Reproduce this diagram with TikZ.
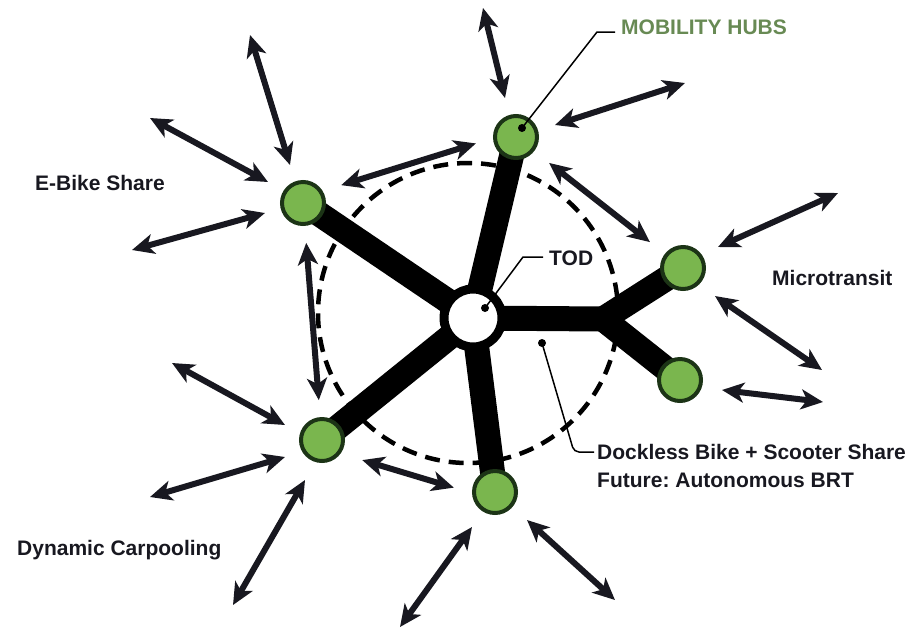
\documentclass[tikz,border=0pt]{standalone}
\usepackage{fontspec}
\setmainfont{Liberation Sans}
\usetikzlibrary{arrows.meta,calc,backgrounds}
\definecolor{HubGreen}{RGB}{122,182,78}
\definecolor{HubRim}{RGB}{28,52,22}
\definecolor{HubText}{RGB}{104,138,84}
\definecolor{InkBlack}{RGB}{24,24,32}

\tikzset{
  hub/.style={circle,draw=HubRim,fill=HubGreen,line width=4pt,minimum size=42pt,inner sep=0pt},
  twoway/.style={{Stealth[length=22pt,width=20pt,inset=6pt]}-{Stealth[length=22pt,width=20pt,inset=6pt]},
    line width=6pt,InkBlack},
  spoke/.style={line width=25pt,black,line join=round},
  lbl/.style={font=\bfseries\fontsize{21}{28}\selectfont,text=InkBlack,inner sep=0pt,anchor=west},
  pin/.style={line width=1.5pt,black},
  pindot/.style={circle,fill=black,inner sep=0pt,minimum size=8pt}
}

\begin{document}
\frenchspacing
\begin{tikzpicture}[x=1pt,y=-1pt]
  \useasboundingbox (0,0) rectangle (917,633);

  \node[hub] (h1) at (516,137) {};
  \node[hub] (h2) at (303,203) {};
  \node[hub] (h3) at (683,268) {};
  \node[hub] (h4) at (680,380) {};
  \node[hub] (h5) at (322,440) {};
  \node[hub] (h6) at (495,492) {};
  \node[circle,draw,line width=9pt,fill=white,minimum size=58pt,inner sep=0pt] (tod) at (473,318) {};
  \coordinate (fork) at (603,319);

  \begin{scope}[on background layer]
    \draw[line width=4.5pt,dash pattern=on 15pt off 9pt] (468,313) circle (150);
    \draw[spoke] (tod.center) -- (h1.center);
    \draw[spoke] (tod.center) -- (h2.center);
    \draw[spoke] (tod.center) -- (h5.center);
    \draw[spoke] (tod.center) -- (h6.center);
    \draw[spoke] (tod.center) -- (fork);
    \draw[spoke] (h3.center) -- (fork) -- (h4.center);
  \end{scope}

  \foreach \h/\nx/\ny/\fx/\fy in {
      h1/-11/-39/-33/-129, h1/39/-12/169/-54,
      h2/-13/-38/-53/-168, h2/-35/-21/-153/-85, h2/-38/10/-171/47,
      h3/35/-21/155/-75, h3/32/28/139/102,
      h4/42/10/143/22,
      h5/-37/-15/-150/-77, h5/-37/17/-172/57, h5/-17/40/-89/165,
      h6/-23/35/-95/135, h6/32/28/120/108}
    \draw[twoway] ($(\h)+(\nx,\ny)$) -- ($(\h)+(\fx,\fy)$);

  \draw[twoway,shorten <=40pt,shorten >=40pt] (h2.center) -- (h5.center);
  \draw[twoway,shorten <=40pt,shorten >=42pt] ([yshift=6pt]h2.center) -- ([yshift=6pt]h1.center);
  \draw[twoway,shorten <=42pt,shorten >=42pt] (h1.center) -- (h3.center);
  \draw[twoway,shorten <=42pt,shorten >=43pt] ([yshift=-8pt]h5.center) -- ([yshift=-8pt]h6.center);

  \node[lbl,text=HubText] (mobtxt) at (621,27) {MOBILITY HUBS};
  \node[pindot] (mobdot) at (522,128) {};
  \coordinate (mobbend) at (597,32);
  \coordinate (mobend) at (615,32);
  \draw[pin] (mobdot.center) -- (mobbend) -- (mobend);

  \node[lbl] (todtxt) at (549,258) {TOD};
  \node[pindot] (toddot) at (485,308) {};
  \coordinate (todbend) at (523,257);
  \coordinate (todend) at (543,257);
  \draw[pin] (toddot.center) -- (todbend) -- (todend);

  \node[lbl,anchor=north west,align=left] (docktxt) at (597,444)
    {Dockless Bike + Scooter Share\\Future: Autonomous BRT};
  \node[pindot] (dockdot) at (542,343) {};
  \coordinate (dockbend) at (574,452);
  \coordinate (dockend) at (594,452);
  \draw[pin,rounded corners=5pt] (dockdot.center) -- (dockbend) -- (dockend);

  \node[lbl] (ebike) at (35,183) {E-Bike Share};
  \node[lbl] (carpool) at (17,550) {Dynamic Carpooling};
  \node[lbl] (micro) at (772,278) {Microtransit};
\end{tikzpicture}
\end{document}
